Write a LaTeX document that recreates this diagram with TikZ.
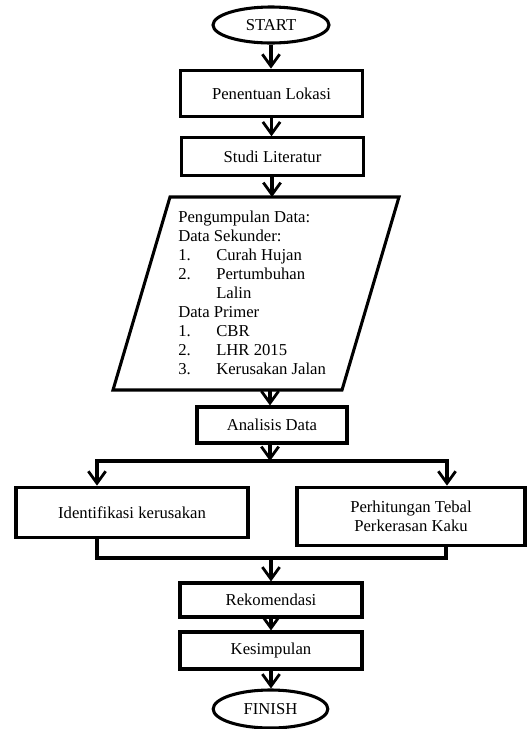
\documentclass[tikz,border=0pt]{standalone}
\usepackage{fontspec}
\setmainfont{Liberation Serif}
\usetikzlibrary{shapes.geometric,arrows.meta}
\newcommand{\numitem}[1]{\makebox[28.5pt][l]{#1}}
\begin{document}
\begin{tikzpicture}[x=0.75pt,y=0.75pt,yscale=-1,xscale=1,
	box/.style={draw,line width=2.3pt,inner sep=0pt,align=center,font=\fontsize{12.5}{14}\selectfont},
	term/.style={box,ellipse},
	line/.style={line width=2.3pt},
	arrow/.style={line,-{Straight Barb[length=9pt,width=13pt,line width=2.1pt]}}]
			\useasboundingbox (0,0) rectangle (527,729);
			%Shape: Ellipse
			\draw (271,25) node [term,minimum width=87pt,minimum height=27pt] (start) {START};
			%Shape: Rectangle
			\draw (271.5,93.5) node [box,minimum width=137pt,minimum height=35pt] (lokasi) {Penentuan Lokasi};
			%Shape: Rectangle
			\draw (272.5,156.5) node [box,minimum width=136pt,minimum height=28pt] (studi) {Studi Literatur};
			%Shape: Parallelogram
			\draw [line] (170,197) -- (399,197) -- (342,390) -- (113,390) -- cycle;
			\coordinate (datain) at (272,197);
			\coordinate (dataout) at (270,390);
			% Text Node
			\draw (178,211) node [anchor=north west,inner sep=0pt,align=left,font=\fontsize{12.5}{14.25}\selectfont] (data) {Pengumpulan Data:\\Data Sekunder:\\\numitem{1.}Curah Hujan\\\numitem{2.}Pertumbuhan\\\hspace*{28.5pt}Lalin\\Data Primer\\\numitem{1.}CBR\\\numitem{2.}LHR 2015\\\numitem{3.}Kerusakan Jalan};
			%Shape: Rectangle
			\draw (272,425) node [box,minimum width=112.5pt,minimum height=27pt] (analisis) {Analisis Data};
			%Shape: Rectangle
			\draw (132,512.5) node [box,minimum width=174pt,minimum height=38pt] (ident) {Identifikasi kerusakan};
			%Shape: Rectangle
			\draw (411,516.5) node [box,minimum width=171pt,minimum height=44pt] (hitung) {Perhitungan Tebal\\Perkerasan Kaku};
			%Shape: Rectangle
			\draw (271,600) node [box,minimum width=136.5pt,minimum height=25.5pt] (rekom) {Rekomendasi};
			%Shape: Rectangle
			\draw (271,650.5) node [box,minimum width=136.5pt,minimum height=27.75pt] (simpul) {Kesimpulan};
			%Shape: Ellipse
			\draw (270.5,709) node [term,minimum width=86pt,minimum height=28.5pt] (finish) {FINISH};
			%Straight Lines
			\coordinate (splitL) at (97,461);
			\coordinate (splitR) at (447,461);
			\coordinate (mergeL) at (97,558);
			\coordinate (mergeR) at (446,558);
			\draw [arrow] (start.south) -- (start.south |- lokasi.north);
			\draw [arrow] (lokasi.south) -- (lokasi.south |- studi.north);
			\draw [arrow] (studi.south -| datain) -- (datain);
			\draw [arrow] (dataout) -- (dataout |- analisis.north);
			\draw [arrow] (dataout |- analisis.south) -- (dataout |- splitL);
			\draw [arrow] (splitR) -- (splitL) -- (splitL |- ident.north);
			\draw [arrow] (splitL) -- (splitR) -- (splitR |- hitung.north);
			\draw [line] (mergeL |- ident.south) -- (mergeL) -- (mergeR) -- (mergeR |- hitung.south);
			\draw [arrow] (rekom.north |- mergeL) -- (rekom.north);
			\draw [arrow] (rekom.south) -- (simpul.north);
			\draw [arrow] (simpul.south) -- (simpul.south |- finish.north);
\end{tikzpicture}
\end{document}
